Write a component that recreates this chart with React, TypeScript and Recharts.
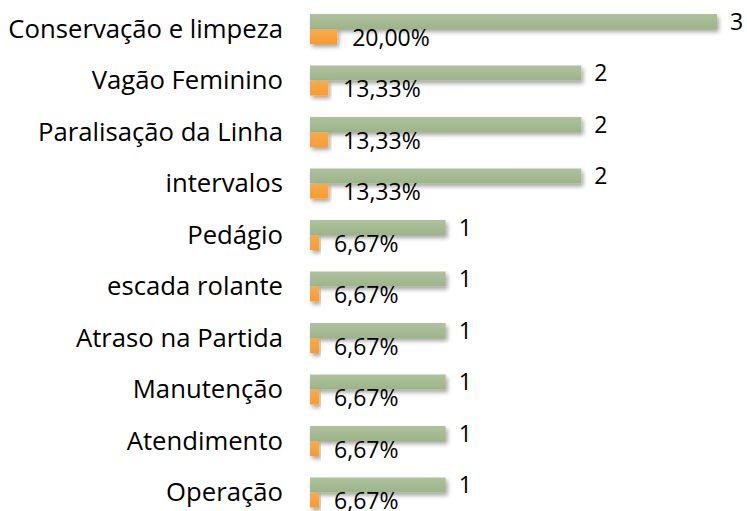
import React from "react";
import { BarChart, Bar, XAxis, YAxis, LabelList } from "recharts";

const categories = [
  "Conservação e limpeza",
  "Vagão Feminino",
  "Paralisação da Linha",
  "intervalos",
  "Pedágio",
  "escada rolante",
  "Atraso na Partida",
  "Manutenção",
  "Atendimento",
  "Operação",
];
const counts = [3, 2, 2, 2, 1, 1, 1, 1, 1, 1];
const percents = [0.2, 0.1333, 0.1333, 0.1333, 0.0667, 0.0667, 0.0667, 0.0667, 0.0667, 0.0667];

const data = categories.map((name, i) => ({ name, count: counts[i], pct: percents[i] }));

const FONT = "'Open Sans', sans-serif";

const fmtPct = (v: any) => (Number(v) * 100).toFixed(2).replace(".", ",") + "%";

export default function App() {
  return (
    <div style={{ position: "absolute", left: 0, top: 0, width: 747, height: 511, overflow: "hidden", background: "#fff" }}>
      <BarChart
        width={747}
        height={518}
        data={data}
        layout="vertical"
        margin={{ top: 3, right: 30, bottom: 0, left: 0 }}
        barSize={15}
        barGap={0}
      >
        <defs>
          <linearGradient id="gGreen" x1="0" y1="0" x2="0" y2="1">
            <stop offset="0%" stopColor="#aec39b" />
            <stop offset="100%" stopColor="#9db38a" />
          </linearGradient>
          <linearGradient id="gOrange" x1="0" y1="0" x2="0" y2="1">
            <stop offset="0%" stopColor="#fbaa48" />
            <stop offset="100%" stopColor="#f59c34" />
          </linearGradient>
          <filter id="shadow" x="-10%" y="-50%" width="130%" height="250%">
            <feDropShadow dx="2" dy="3" stdDeviation="2" floodColor="#000" floodOpacity="0.35" />
          </filter>
        </defs>
        <XAxis type="number" domain={[0, 3]} hide />
        <YAxis
          type="category"
          dataKey="name"
          width={310}
          axisLine={false}
          tickLine={false}
          tickSize={0}
          tickMargin={27}
          interval={0}
          tick={{ fill: "#000", fontSize: 25.7, fontFamily: FONT }}
        />
        <Bar dataKey="count" fill="url(#gGreen)" filter="url(#shadow)" isAnimationActive={false}>
          <LabelList
            dataKey="count"
            position="right"
            offset={13}
            fill="#000"
            fontSize={23}
            fontFamily={FONT}
          />
        </Bar>
        <Bar dataKey="pct" fill="url(#gOrange)" filter="url(#shadow)" isAnimationActive={false}>
          <LabelList
            dataKey="pct"
            position="right"
            offset={15}
            fill="#000"
            fontSize={23}
            fontFamily={FONT}
            formatter={fmtPct}
            dy={1}
          />
        </Bar>
      </BarChart>
    </div>
  );
}
